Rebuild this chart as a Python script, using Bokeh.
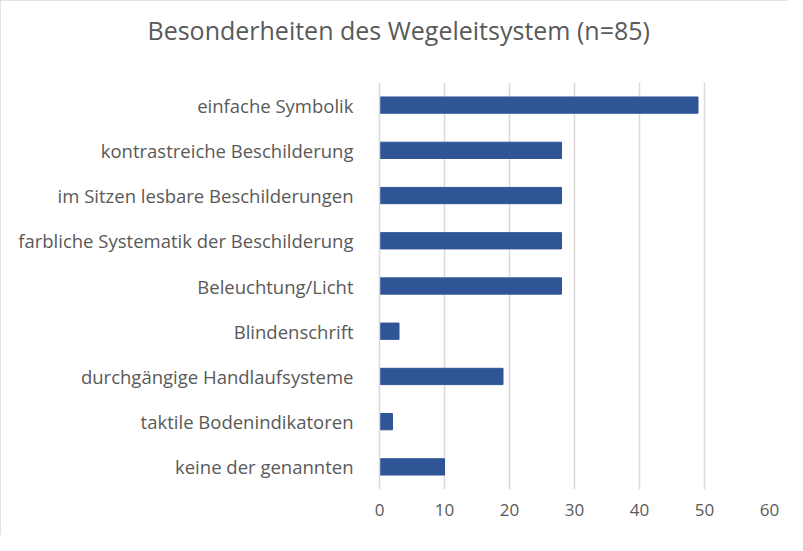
from bokeh.plotting import figure
from bokeh.models import ColumnDataSource, FactorRange, Range1d, Title, FixedTicker
from bokeh.embed import file_html
from bokeh.resources import INLINE

categories = [
    "einfache Symbolik",
    "kontrastreiche Beschilderung",
    "im Sitzen lesbare Beschilderungen",
    "farbliche Systematik der Beschilderung",
    "Beleuchtung/Licht",
    "Blindenschrift",
    "durchgängige Handlaufsysteme",
    "taktile Bodenindikatoren",
    "keine der genannten",
]
values = [49, 28, 28, 28, 28, 3, 19, 2, 10]
x_ticks = [0, 10, 20, 30, 40, 50, 60]
title_text = "Besonderheiten des Wegeleitsystem (n=85)"

FONT = "Open Sans"
TXT = "#595959"

src = ColumnDataSource(dict(cat=categories, val=values))

p = figure(
    width=787, height=535,
    y_range=FactorRange(*reversed(categories)),
    x_range=Range1d(0, 60),
    output_backend="svg", toolbar_location=None,
    min_border_left=379, min_border_right=18, min_border_top=0, min_border_bottom=46,
)
p.title = None
spacer = Title(text=" ", text_font_size="1px", standoff=23, text_color="white")
p.add_layout(spacer, "above")
t = Title(text=title_text, align="left", offset=-232, text_font=FONT,
          text_font_size="25px", text_font_style="normal", text_color=TXT,
          standoff=20)
p.add_layout(t, "above")

p.hbar(y="cat", right="val", left=0, height=0.36, source=src,
       fill_color="#2F5597", line_color="#2F5597")

p.outline_line_color = None
p.background_fill_color = "white"
p.border_fill_color = "white"

p.xaxis.ticker = FixedTicker(ticks=x_ticks)
p.xaxis.axis_line_color = None
p.xaxis.major_tick_line_color = None
p.xaxis.minor_tick_line_color = None
p.xaxis.major_label_text_font = FONT
p.xaxis.major_label_text_font_size = "17px"
p.xaxis.major_label_text_color = TXT
p.xaxis.major_label_standoff = 8

p.yaxis.axis_line_color = "#d9d9d9"
p.yaxis.axis_line_width = 1.5
p.yaxis.major_tick_line_color = None
p.yaxis.minor_tick_line_color = None
p.yaxis.major_label_text_font = FONT
p.yaxis.major_label_text_font_size = "18.5px"
p.yaxis.major_label_text_color = TXT
p.yaxis.major_label_standoff = 20

p.xgrid.grid_line_color = "#d9d9d9"
p.xgrid.grid_line_width = 1.5
p.ygrid.grid_line_color = None

p.styles = {"outline": "1px solid #d9d9d9", "outline-offset": "-1px"}

open("out.html", "w").write(file_html(p, INLINE))
